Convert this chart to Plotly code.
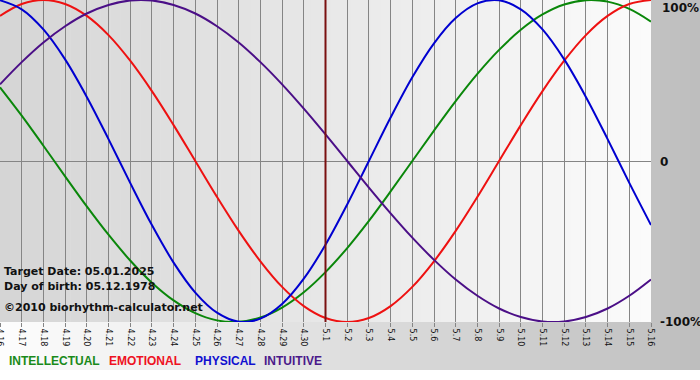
import plotly.graph_objects as go

# ---- data ----
dates = ["4.16", "4.17", "4.18", "4.19", "4.20", "4.21", "4.22", "4.23", "4.24", "4.25",
         "4.26", "4.27", "4.28", "4.29", "4.30", "5.1", "5.2", "5.3", "5.4", "5.5",
         "5.6", "5.7", "5.8", "5.9", "5.10", "5.11", "5.12", "5.13", "5.14", "5.15", "5.16"]

intellectual = [0.458, 0.282, 0.095, -0.095, -0.282, -0.458, -0.618, -0.756, -0.866, -0.945,
                -0.990, -0.999, -0.972, -0.910, -0.815, -0.690, -0.541, -0.372, -0.189, 0.0,
                0.189, 0.372, 0.541, 0.690, 0.815, 0.910, 0.972, 0.999, 0.990, 0.945, 0.866]
emotional = [0.901, 0.975, 1.0, 0.975, 0.901, 0.782, 0.623, 0.434, 0.223, 0.0,
             -0.223, -0.434, -0.623, -0.782, -0.901, -0.975, -1.0, -0.975, -0.901, -0.782,
             -0.623, -0.434, -0.223, 0.0, 0.223, 0.434, 0.623, 0.782, 0.901, 0.975, 1.0]
physical = [0.998, 0.942, 0.817, 0.631, 0.398, 0.136, -0.136, -0.398, -0.631, -0.817,
            -0.942, -0.998, -0.979, -0.888, -0.731, -0.520, -0.270, 0.0, 0.270, 0.520,
            0.731, 0.888, 0.979, 0.998, 0.942, 0.817, 0.631, 0.398, 0.136, -0.136, -0.398]
intuitive = [0.476, 0.614, 0.736, 0.837, 0.916, 0.969, 0.997, 0.997, 0.969, 0.916,
             0.837, 0.736, 0.614, 0.476, 0.325, 0.165, 0.0, -0.165, -0.325, -0.476,
             -0.614, -0.736, -0.837, -0.916, -0.969, -0.997, -0.997, -0.969, -0.916, -0.837, -0.736]

series_names = ["INTELLECTUAL", "EMOTIONAL", "PHYSICAL", "INTUITIVE"]
series_colors = ["#0a870a", "#ee1111", "#0000d0", "#4b0f87"]
legend_colors = ["#1a8a1a", "#ee1122", "#1010d0", "#4b1a8a"]

target_date = "5.1"
info_lines = ["Target Date: 05.01.2025", "Day of birth: 05.12.1978", "©2010 biorhythm-calculator.net"]
y_labels = ["100%", "0", "-100%"]

# ---- geometry ----
W, H = 700, 380
PL, PR, PT, PB = 0, 49, 0, 58
PW = W - PL - PR
PH = H - PT - PB


def px_x(px):
    return (px - PL) / PW


def px_y(py):
    return (PH + PT - py) / PH


def grey(v):
    v = int(round(v))
    return f"rgb({v},{v},{v})"


fig = go.Figure()

for name, vals, col in zip(series_names, [intellectual, emotional, physical, intuitive], series_colors):
    fig.add_trace(go.Scatter(x=dates, y=vals, mode="lines", name=name,
                             line=dict(color=col, width=2, shape="spline", smoothing=1.0),
                             hoverinfo="skip", showlegend=False))

shapes = []
# outer (paper) gradient: light on left -> grey on right, down to y=370
n = 70
for i in range(n):
    x0 = i * W / n
    x1 = (i + 1) * W / n + 0.5
    c = 253 - (253 - 190) * (i + 0.5) / n
    shapes.append(dict(type="rect", xref="paper", yref="paper", layer="below",
                       x0=px_x(x0), x1=px_x(x1), y0=px_y(370), y1=px_y(0),
                       line=dict(width=0), fillcolor=grey(c)))
# plot-area gradient: grey on left -> light on right
n2 = 65
for i in range(n2):
    x0 = PL + i * PW / n2
    x1 = PL + (i + 1) * PW / n2 + 0.5
    c = 213 + (251 - 213) * (i + 0.5) / n2
    shapes.append(dict(type="rect", xref="paper", yref="paper", layer="below",
                       x0=px_x(x0), x1=min(px_x(x1), 1.0), y0=0, y1=1,
                       line=dict(width=0), fillcolor=grey(c)))
# target date line (category index of the target date)
t_idx = dates.index(target_date)
shapes.append(dict(type="line", xref="x", yref="paper", x0=t_idx, x1=t_idx,
                   y0=0, y1=1, line=dict(color="#7a1010", width=2), layer="above"))

annotations = []
for txt, py in zip(info_lines, [271, 286, 307]):
    annotations.append(dict(text=f"<b>{txt}</b>", xref="paper", yref="paper", x=px_x(2), y=px_y(py),
                            xanchor="left", yanchor="middle", showarrow=False,
                            font=dict(family="DejaVu Sans", size=11, color="#111111")))
for txt, py, xs in zip(y_labels, [8, 162, 322], [9, 7, 7]):
    annotations.append(dict(text=f"<b>{txt}</b>", xref="paper", yref="paper", x=1, y=px_y(py),
                            xanchor="left", yanchor="middle", xshift=xs, showarrow=False,
                            font=dict(family="DejaVu Sans", size=12, color="#111111")))
for txt, col, xs in zip(series_names, legend_colors, [7, 107, 193, 262]):
    annotations.append(dict(text=f"<b>{txt}</b>", xref="paper", yref="paper", x=px_x(xs), y=px_y(361),
                            xanchor="left", yanchor="middle", showarrow=False,
                            font=dict(family="Liberation Sans", size=12, color=col)))

fig.update_layout(
    width=W, height=H,
    margin=dict(l=PL, r=PR, t=PT, b=PB, pad=0, autoexpand=False),
    paper_bgcolor="white",
    plot_bgcolor="rgba(0,0,0,0)",
    shapes=shapes,
    annotations=annotations,
    xaxis=dict(type="category", categoryorder="array", categoryarray=dates,
               range=[0, len(dates) - 1], showgrid=True, gridcolor="#858585", gridwidth=1,
               ticks="outside", ticklen=4, tickcolor="#858585", tickwidth=1,
               tickangle=90, tickfont=dict(family="DejaVu Sans", size=8, color="#111111"),
               ticklabeloverflow="allow", automargin=False,
               showline=False, zeroline=False, fixedrange=True),
    yaxis=dict(range=[-1, 1], showgrid=False, zeroline=True, zerolinecolor="#858585",
               zerolinewidth=1, showticklabels=False, ticks="", showline=False,
               automargin=False, fixedrange=True),
)

fig.write_html("out.html", config={"displayModeBar": False},
               post_script="document.body.style.margin='0';")
